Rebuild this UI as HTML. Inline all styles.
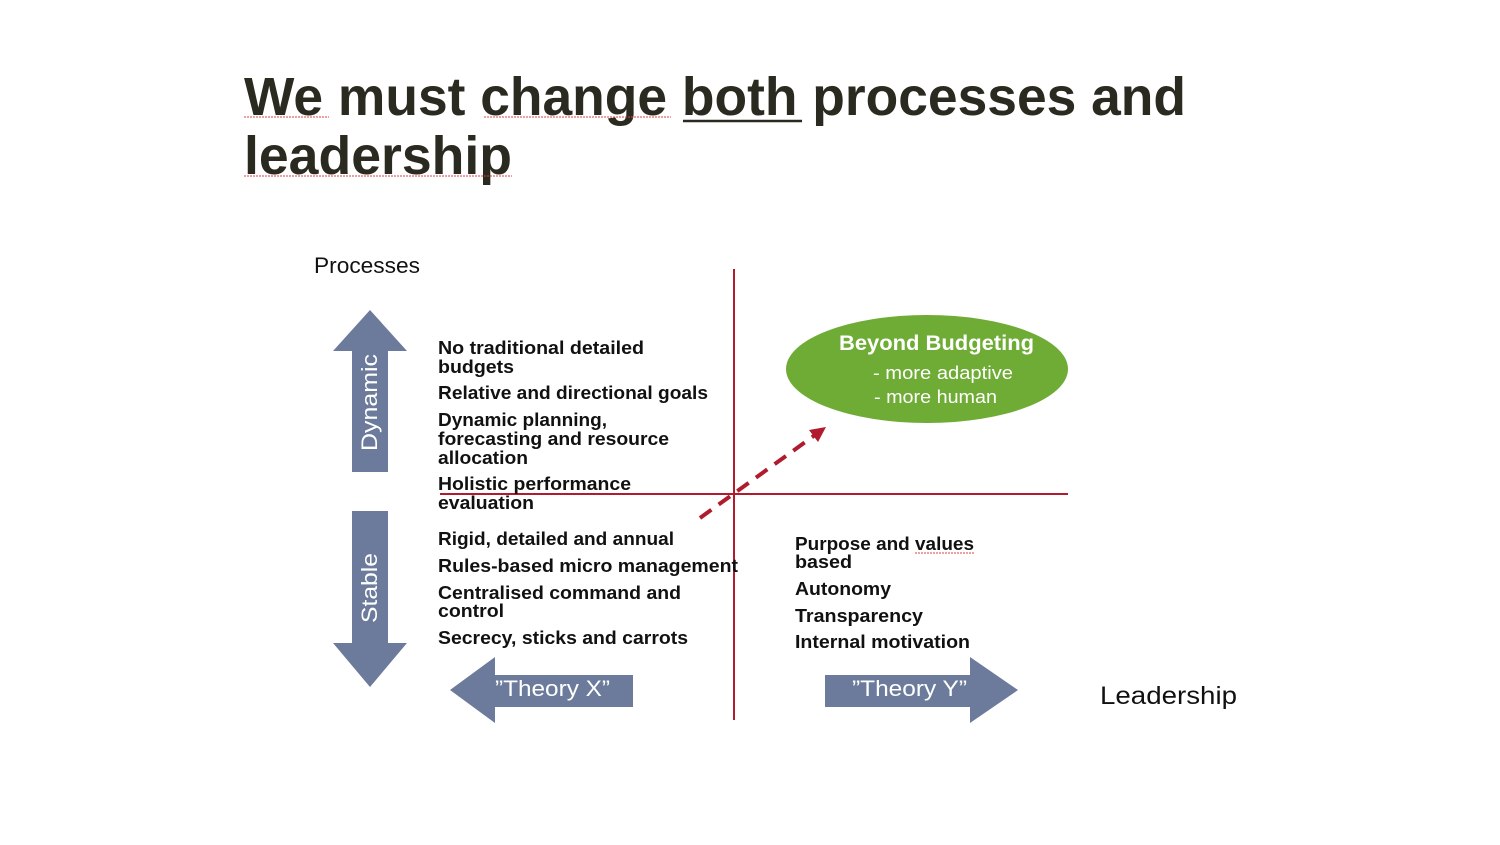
<!DOCTYPE html>
<html><head><meta charset="utf-8"><style>html,body{margin:0;padding:0;background:#fff}svg{display:block}</style></head>
<body>
<svg width="1500" height="845" xmlns="http://www.w3.org/2000/svg" font-family="Liberation Sans, sans-serif">
<rect width="1500" height="845" fill="#fff"/>
<g font-weight="bold" font-size="54" fill="#2a2a20">
<text x="244" y="115" textLength="942" lengthAdjust="spacingAndGlyphs">We must change both processes and</text>
<text x="244" y="174" textLength="268" lengthAdjust="spacingAndGlyphs">leadership</text>
</g>
<line x1="683" y1="121" x2="802" y2="121" stroke="#2a2a20" stroke-width="2.5"/>
<g stroke="#e04040" stroke-width="1" stroke-dasharray="2,1" fill="none">
<line x1="244" y1="117" x2="329" y2="117"/><line x1="484" y1="117" x2="671" y2="117"/><line x1="244" y1="176" x2="512" y2="176"/>
</g>
<text x="314" y="273" font-size="22" fill="#111" textLength="106" lengthAdjust="spacingAndGlyphs">Processes</text>
<text x="1100" y="704" font-size="25" fill="#111" textLength="137" lengthAdjust="spacingAndGlyphs">Leadership</text>
<g fill="#6c7b9b">
<polygon points="370,310 407,351 388,351 388,472 352,472 352,351 333,351"/>
<polygon points="352,511 388,511 388,643 407,643 370,687 333,643 352,643"/>
<polygon points="450,690 495,657 495,675 633,675 633,707 495,707 495,723"/>
<polygon points="825,675 970,675 970,657 1018,690 970,723 970,707 825,707"/>
</g>
<g fill="#fff" font-size="22">
<text transform="translate(377,451) rotate(-90)" textLength="97" lengthAdjust="spacingAndGlyphs">Dynamic</text>
<text transform="translate(377,623) rotate(-90)" textLength="70" lengthAdjust="spacingAndGlyphs">Stable</text>
<text x="495" y="696" textLength="115" lengthAdjust="spacingAndGlyphs">”Theory X”</text>
<text x="852" y="696" textLength="115" lengthAdjust="spacingAndGlyphs">”Theory Y”</text>
</g>
<line x1="734" y1="269" x2="734" y2="720" stroke="#b01c2e" stroke-width="2"/>
<line x1="440" y1="494" x2="1068" y2="494" stroke="#b01c2e" stroke-width="2"/>
<line x1="700" y1="518" x2="815" y2="435" stroke="#b01c2e" stroke-width="4" stroke-dasharray="14,9"/>
<polygon points="826,427 818,442 809,430" fill="#b01c2e"/>
<ellipse cx="927" cy="369" rx="141" ry="54" fill="#6fac36"/>
<g fill="#fff">
<text x="839" y="350" font-size="21" font-weight="bold" textLength="195" lengthAdjust="spacingAndGlyphs">Beyond Budgeting</text>
<text x="873" y="379" font-size="18" textLength="140" lengthAdjust="spacingAndGlyphs">- more adaptive</text>
<text x="874" y="403" font-size="18" textLength="123" lengthAdjust="spacingAndGlyphs">- more human</text>
</g>
<g font-size="18" font-weight="bold" fill="#111">
<text x="438" y="354" textLength="206" lengthAdjust="spacingAndGlyphs">No traditional detailed</text>
<text x="438" y="373" textLength="76" lengthAdjust="spacingAndGlyphs">budgets</text>
<text x="438" y="399" textLength="270" lengthAdjust="spacingAndGlyphs">Relative and directional goals</text>
<text x="438" y="426" textLength="169" lengthAdjust="spacingAndGlyphs">Dynamic planning,</text>
<text x="438" y="445" textLength="231" lengthAdjust="spacingAndGlyphs">forecasting and resource</text>
<text x="438" y="464" textLength="90" lengthAdjust="spacingAndGlyphs">allocation</text>
<text x="438" y="490" textLength="193" lengthAdjust="spacingAndGlyphs">Holistic performance</text>
<text x="438" y="509" textLength="96" lengthAdjust="spacingAndGlyphs">evaluation</text>
<text x="438" y="545" textLength="236" lengthAdjust="spacingAndGlyphs">Rigid, detailed and annual</text>
<text x="438" y="572" textLength="300" lengthAdjust="spacingAndGlyphs">Rules-based micro management</text>
<text x="438" y="599" textLength="243" lengthAdjust="spacingAndGlyphs">Centralised command and</text>
<text x="438" y="617" textLength="66" lengthAdjust="spacingAndGlyphs">control</text>
<text x="438" y="644" textLength="250" lengthAdjust="spacingAndGlyphs">Secrecy, sticks and carrots</text>
<text x="795" y="550" textLength="179" lengthAdjust="spacingAndGlyphs">Purpose and values</text>
<text x="795" y="568" textLength="57" lengthAdjust="spacingAndGlyphs">based</text>
<text x="795" y="595" textLength="96" lengthAdjust="spacingAndGlyphs">Autonomy</text>
<text x="795" y="622" textLength="128" lengthAdjust="spacingAndGlyphs">Transparency</text>
<text x="795" y="648" textLength="175" lengthAdjust="spacingAndGlyphs">Internal motivation</text>
</g>
<line x1="915" y1="553" x2="974" y2="553" stroke="#e04040" stroke-width="1" stroke-dasharray="2,1"/>
</svg>
</body></html>
